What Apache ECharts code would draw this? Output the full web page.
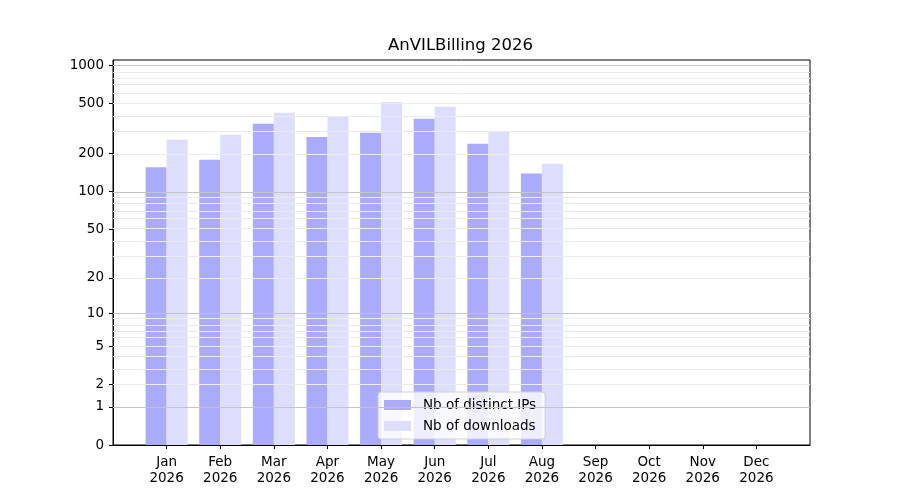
<!DOCTYPE html>
<html>
<head>
<meta charset="utf-8">
<script src="https://cdn.jsdelivr.net/npm/echarts@6/dist/echarts.min.js"></script>
<style>
html,body{margin:0;padding:0;background:#fff;}
#main{width:900px;height:500px;}
</style>
</head>
<body>
<div id="main"></div>
<script>
var months = ['Jan','Feb','Mar','Apr','May','Jun','Jul','Aug','Sep','Oct','Nov','Dec'];
var year = '2026';
var distinctIPs = [156, 179, 345, 272, 293, 378, 240, 139];
var downloads = [259, 283, 422, 392, 515, 471, 299, 166];
var yTickLabels = [0, 1, 2, 5, 10, 20, 50, 100, 200, 500, 1000];
var majorGrid = [1, 10, 100, 1000];
var minorGrid = [2, 3, 4, 5, 6, 7, 8, 9, 20, 30, 40, 50, 60, 70, 80, 90, 200, 300, 400, 500, 600, 700, 800, 900];

// y scale is log10(1 + x)
function tr(v){ return Math.log10(1 + v); }

var myChart = echarts.init(document.getElementById('main'));

var gridLines = [];
majorGrid.forEach(function(v){
	gridLines.push({yAxis: tr(v), lineStyle: {color: '#c4c4c4', width: 1, type: 'solid'}});
});
minorGrid.forEach(function(v){
	gridLines.push({yAxis: tr(v), lineStyle: {color: '#ebebeb', width: 1, type: 'solid'}});
});

var font = 'DejaVu Sans';
var option = {
	animation: false,
	title: {
		text: 'AnVILBilling ' + year,
		left: 388,
		top: 37,
		padding: 0,
		textStyle: {fontFamily: font, fontSize: 16.5, fontWeight: 'normal', color: '#000'}
	},
	legend: {
		orient: 'vertical',
		left: 378,
		top: 392,
		icon: 'rect',
		itemWidth: 27,
		itemHeight: 10,
		itemGap: 7,
		padding: [6, 9, 6, 6],
		backgroundColor: 'rgba(255,255,255,0.8)',
		borderColor: '#d0d0d0',
		borderWidth: 1,
		borderRadius: 3,
		textStyle: {fontFamily: font, fontSize: 13.5, color: '#000', padding: [0, 0, 0, 7]},
		data: ['Nb of distinct IPs', 'Nb of downloads']
	},
	grid: {
		left: 113, right: 90, top: 60, bottom: 55,
		show: true, borderColor: '#000', borderWidth: 1, backgroundColor: 'transparent'
	},
	xAxis: {
		type: 'value',
		min: 0, max: 13, interval: 1,
		axisLine: {show: true, lineStyle: {color: '#000'}},
		axisTick: {show: true, length: 4, inside: false, lineStyle: {color: '#000'},
			customValues: months.map(function(m, i){ return i + 1; })},
		splitLine: {show: false},
		axisLabel: {
			fontFamily: font, fontSize: 13.5, color: '#000', margin: 9, lineHeight: 16,
			customValues: months.map(function(m, i){ return i + 1; }),
			formatter: function(v){ return months[Math.round(v) - 1] + '\n' + year; }
		}
	},
	yAxis: {
		type: 'value',
		min: 0, max: 3.044,
		axisLine: {show: true, lineStyle: {color: '#000'}},
		axisTick: {show: true, length: 4, inside: false, lineStyle: {color: '#000'},
			customValues: yTickLabels.map(tr)},
		splitLine: {show: false},
		axisLabel: {
			fontFamily: font, fontSize: 13.5, color: '#000', margin: 9,
			customValues: yTickLabels.map(tr),
			formatter: function(v){ return String(Math.round(Math.pow(10, v) - 1)); }
		}
	},
	series: [
		{
			name: 'Nb of distinct IPs',
			type: 'bar',
			barWidth: 21,
			barGap: '0%',
			itemStyle: {color: '#aaaaff'},
			data: distinctIPs.map(function(v, i){ return [i + 1, tr(v)]; }),
			markLine: {
				silent: true,
				symbol: 'none',
				label: {show: false},
				data: gridLines
			}
		},
		{
			name: 'Nb of downloads',
			type: 'bar',
			barWidth: 21,
			barGap: '0%',
			itemStyle: {color: '#ddddff'},
			data: downloads.map(function(v, i){ return [i + 1, tr(v)]; })
		}
	]
};
myChart.setOption(option);
</script>
</body>
</html>
